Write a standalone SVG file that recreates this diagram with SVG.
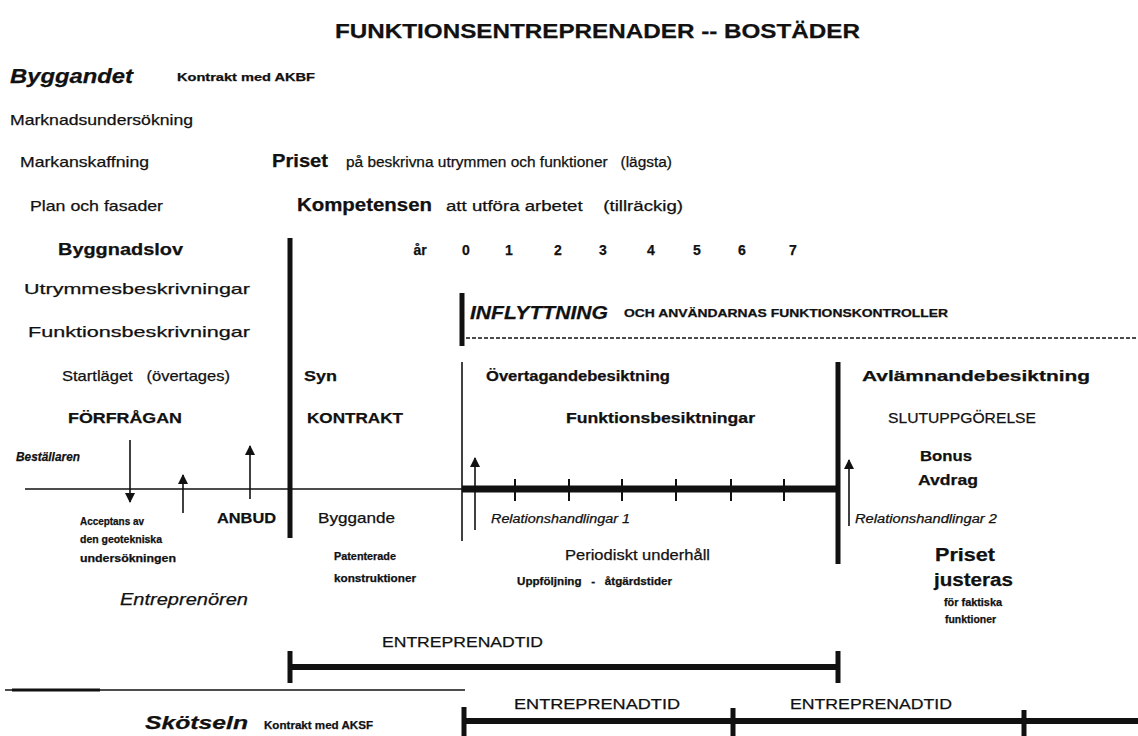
<svg xmlns="http://www.w3.org/2000/svg" width="1138" height="736" viewBox="0 0 1138 736" xml:space="preserve">
  <style>
    text { font-family: "Liberation Sans", Arial, sans-serif; fill: #111; stroke: #111; stroke-width: 0.25; white-space: pre; }
    .b { font-weight: bold; }
    .i { font-style: italic; }
    .r14 { font-size: 15px; }
    .r13 { font-size: 14px; }
    .s10 { font-size: 10.5px; font-weight: bold; }
    .s9 { font-size: 10px; font-weight: bold; }
    .h16 { font-size: 17px; font-weight: bold; }
    .h17 { font-size: 18px; font-weight: bold; }
    .num { font-size: 14px; font-weight: bold; text-anchor: middle; }
    .thick { stroke: #111; stroke-width: 5; fill: none; }
    .thin { stroke: #111; stroke-width: 1.6; fill: none; }
    .arrow { stroke: #111; stroke-width: 1.6; fill: none; marker-end: url(#head); }
    .tick { stroke: #111; stroke-width: 2; }
  </style>
  <defs>
    <marker id="head" viewBox="0 0 10 10" refX="9" refY="5" markerWidth="6.5" markerHeight="6.5" markerUnits="strokeWidth" orient="auto">
      <path d="M0,0 L10,5 L0,10 Z" fill="#111"/>
    </marker>
  </defs>
  <rect width="1138" height="736" fill="#fff"/>

  <!-- title -->
  <g id="title">
    <text x="335" y="38" class="b" font-size="21" textLength="525" lengthAdjust="spacingAndGlyphs">FUNKTIONSENTREPRENADER -- BOSTÄDER</text>
  </g>

  <!-- build phase: left-hand list -->
  <g id="byggandet">
    <text x="10" y="83" class="b i" font-size="20" textLength="123" lengthAdjust="spacingAndGlyphs">Byggandet</text>
    <text x="177" y="81" class="s10" textLength="138" lengthAdjust="spacingAndGlyphs">Kontrakt med AKBF</text>
    <text x="10" y="125" class="r14" textLength="183" lengthAdjust="spacingAndGlyphs">Marknadsundersökning</text>
    <text x="20" y="167" class="r14" textLength="129" lengthAdjust="spacingAndGlyphs">Markanskaffning</text>
    <text x="30" y="211" class="r14" textLength="133" lengthAdjust="spacingAndGlyphs">Plan och fasader</text>
    <text x="58" y="255" class="h16" textLength="125" lengthAdjust="spacingAndGlyphs">Byggnadslov</text>
    <text x="24" y="294" class="r14" textLength="226" lengthAdjust="spacingAndGlyphs">Utrymmesbeskrivningar</text>
    <text x="28" y="337" class="r14" textLength="222" lengthAdjust="spacingAndGlyphs">Funktionsbeskrivningar</text>
    <text x="62" y="381" class="r14" textLength="168" lengthAdjust="spacingAndGlyphs">Startläget   (övertages)</text>
    <text x="68" y="423" class="b" font-size="15" textLength="114" lengthAdjust="spacingAndGlyphs">FÖRFRÅGAN</text>
  </g>

  <!-- award criteria -->
  <g id="kriterier">
    <text x="272" y="167" class="h17" textLength="56" lengthAdjust="spacingAndGlyphs">Priset</text>
    <text x="346" y="167" class="r13" textLength="326" lengthAdjust="spacingAndGlyphs">på beskrivna utrymmen och funktioner   (lägsta)</text>
    <text x="297" y="211" class="h17" textLength="135" lengthAdjust="spacingAndGlyphs">Kompetensen</text>
    <text x="446" y="211" class="r13" textLength="237" lengthAdjust="spacingAndGlyphs">att utföra arbetet    (tillräckig)</text>
  </g>

  <!-- year scale -->
  <g id="ar">
    <text x="420" y="255" class="num">år</text>
    <text x="466" y="255" class="num">0</text>
    <text x="509" y="255" class="num">1</text>
    <text x="558" y="255" class="num">2</text>
    <text x="603" y="255" class="num">3</text>
    <text x="651" y="255" class="num">4</text>
    <text x="697" y="255" class="num">5</text>
    <text x="742" y="255" class="num">6</text>
    <text x="793" y="255" class="num">7</text>
  </g>

  <!-- moving in -->
  <g id="inflyttning">
    <text x="470" y="319" class="b i" font-size="19" textLength="138" lengthAdjust="spacingAndGlyphs">INFLYTTNING</text>
    <text x="624" y="317" class="s10" textLength="324" lengthAdjust="spacingAndGlyphs">OCH ANVÄNDARNAS FUNKTIONSKONTROLLER</text>
  </g>

  <!-- contract column -->
  <g id="kontrakt">
    <text x="304" y="381" class="b" font-size="15" textLength="33" lengthAdjust="spacingAndGlyphs">Syn</text>
    <text x="307" y="423" class="b" font-size="15" textLength="96" lengthAdjust="spacingAndGlyphs">KONTRAKT</text>
    <text x="318" y="523" class="r14" textLength="77" lengthAdjust="spacingAndGlyphs">Byggande</text>
    <text x="334" y="560" class="s9" textLength="62" lengthAdjust="spacingAndGlyphs">Patenterade</text>
    <text x="334" y="582" class="s9" textLength="82" lengthAdjust="spacingAndGlyphs">konstruktioner</text>
  </g>

  <!-- guarantee period column -->
  <g id="garanti">
    <text x="486" y="381" class="b" font-size="15" textLength="184" lengthAdjust="spacingAndGlyphs">Övertagandebesiktning</text>
    <text x="566" y="423" class="b" font-size="15" textLength="189" lengthAdjust="spacingAndGlyphs">Funktionsbesiktningar</text>
    <text x="491" y="523" class="i" font-size="12.5" textLength="139" lengthAdjust="spacingAndGlyphs">Relationshandlingar 1</text>
    <text x="565" y="560" class="r14" textLength="145" lengthAdjust="spacingAndGlyphs">Periodiskt underhåll</text>
    <text x="517" y="585" class="s9" textLength="155" lengthAdjust="spacingAndGlyphs">Uppföljning   -   åtgärdstider</text>
  </g>

  <!-- final settlement column -->
  <g id="slut">
    <text x="862" y="381" class="b" font-size="15" textLength="228" lengthAdjust="spacingAndGlyphs">Avlämnandebesiktning</text>
    <text x="888" y="423" class="r14" textLength="148" lengthAdjust="spacingAndGlyphs">SLUTUPPGÖRELSE</text>
    <text x="920" y="461" class="b" font-size="15" textLength="52" lengthAdjust="spacingAndGlyphs">Bonus</text>
    <text x="918" y="485" class="b" font-size="15" textLength="60" lengthAdjust="spacingAndGlyphs">Avdrag</text>
    <text x="855" y="523" class="i" font-size="12.5" textLength="142" lengthAdjust="spacingAndGlyphs">Relationshandlingar 2</text>
    <text x="935" y="561" class="h17" textLength="60" lengthAdjust="spacingAndGlyphs">Priset</text>
    <text x="934" y="586" class="h17" textLength="79" lengthAdjust="spacingAndGlyphs">justeras</text>
    <text x="944" y="606" class="s9" textLength="58" lengthAdjust="spacingAndGlyphs">för faktiska</text>
    <text x="945" y="623" class="s9" textLength="51" lengthAdjust="spacingAndGlyphs">funktioner</text>
  </g>

  <!-- parties and tender -->
  <g id="parter">
    <text x="16" y="461" class="b i" font-size="13.5" textLength="64" lengthAdjust="spacingAndGlyphs">Beställaren</text>
    <text x="80" y="525" class="s9" textLength="64" lengthAdjust="spacingAndGlyphs">Acceptans av</text>
    <text x="80" y="543" class="s9" textLength="82" lengthAdjust="spacingAndGlyphs">den geotekniska</text>
    <text x="80" y="562" class="s9" textLength="96" lengthAdjust="spacingAndGlyphs">undersökningen</text>
    <text x="217" y="523" class="b" font-size="15" textLength="59" lengthAdjust="spacingAndGlyphs">ANBUD</text>
    <text x="120" y="605" class="i" font-size="16" textLength="128" lengthAdjust="spacingAndGlyphs">Entreprenören</text>
  </g>

  <!-- contract periods -->
  <g id="entreprenadtid">
    <text x="382" y="647" class="r14" textLength="161" lengthAdjust="spacingAndGlyphs">ENTREPRENADTID</text>
    <text x="514" y="709" class="r14" textLength="166" lengthAdjust="spacingAndGlyphs">ENTREPRENADTID</text>
    <text x="790" y="709" class="r14" textLength="162" lengthAdjust="spacingAndGlyphs">ENTREPRENADTID</text>
  </g>

  <!-- maintenance phase -->
  <g id="skotseln">
    <text x="145" y="729" class="b i" font-size="19" textLength="103" lengthAdjust="spacingAndGlyphs">Skötseln</text>
    <text x="264" y="729" class="s10" textLength="109" lengthAdjust="spacingAndGlyphs">Kontrakt med AKSF</text>
  </g>

  <!-- lines, bars and arrows -->
  <g id="connectors">
    <!-- phase boundaries -->
    <line class="thick" x1="290" y1="238" x2="290" y2="538"/>
    <line class="thick" x1="462" y1="293" x2="462" y2="346"/>
    <line class="thin" x1="462" y1="362" x2="462" y2="541" stroke-width="2.2"/>
    <line class="thick" x1="838" y1="362" x2="838" y2="564" stroke-width="5.5"/>
    <!-- users' follow-up (dashed) -->
    <line x1="466" y1="338" x2="1138" y2="338" stroke="#111" stroke-width="1.4" stroke-dasharray="4 2"/>
    <!-- time axis -->
    <line class="thin" x1="25" y1="489" x2="462" y2="489"/>
    <line x1="462" y1="489" x2="838" y2="489" stroke="#111" stroke-width="7"/>
    <line class="tick" x1="515" y1="479" x2="515" y2="501"/>
    <line class="tick" x1="569" y1="479" x2="569" y2="501"/>
    <line class="tick" x1="622" y1="479" x2="622" y2="501"/>
    <line class="tick" x1="676" y1="479" x2="676" y2="501"/>
    <line class="tick" x1="731" y1="479" x2="731" y2="501"/>
    <line class="tick" x1="784" y1="479" x2="784" y2="501"/>
    <!-- arrows between client and contractor -->
    <line class="arrow" x1="130" y1="440" x2="130" y2="502"/>
    <line class="arrow" x1="183" y1="513" x2="183" y2="475"/>
    <line class="arrow" x1="250" y1="499" x2="250" y2="446"/>
    <line class="arrow" x1="475" y1="530" x2="475" y2="458"/>
    <line class="arrow" x1="849" y1="526" x2="849" y2="460"/>
    <!-- contract period bar (build) -->
    <line x1="290" y1="667" x2="838" y2="667" stroke="#111" stroke-width="6"/>
    <line class="thick" x1="290" y1="651" x2="290" y2="683" stroke-width="4"/>
    <line class="thick" x1="838" y1="651" x2="838" y2="683" stroke-width="4"/>
    <!-- separator between phases -->
    <line x1="5" y1="690" x2="465" y2="690" stroke="#111" stroke-width="1.6"/>
    <line x1="12" y1="690" x2="100" y2="690" stroke="#111" stroke-width="3"/>
    <!-- contract period bar (maintenance) -->
    <line x1="464" y1="721" x2="1138" y2="721" stroke="#111" stroke-width="6"/>
    <line class="thick" x1="464" y1="707" x2="464" y2="736" stroke-width="3.5"/>
    <line class="thick" x1="733" y1="708" x2="733" y2="736" stroke-width="3.5"/>
    <line class="thick" x1="1024" y1="710" x2="1024" y2="736" stroke-width="3.5"/>
  </g>
</svg>
